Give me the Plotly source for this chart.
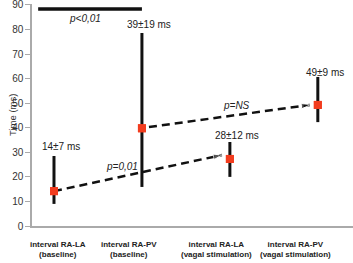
import plotly.graph_objects as go

categories = ["interval RA-LA<br>(baseline)", "interval RA-PV<br>(baseline)",
              "interval RA-LA<br>(vagal stimulation)", "interval RA-PV<br>(vagal stimulation)"]
x_pos = [1, 2, 3, 4]
means = [14.2, 39.8, 27.3, 49.3]
err_plus = [14.3, 38.8, 6.9, 11.4]
err_minus = [5.2, 23.9, 7.3, 7.0]
value_labels = ["14±7 ms", "39±19 ms", "28±12 ms", "49±9 ms"]
label_y = [32.2, 82.2, 37.0, 62.7]
cat_label_x = [1.045, 1.852, 2.852, 3.75]

# comparisons: (from index, to index, text)
comparisons = [(0, 2, "p=0,01"), (1, 3, "p=NS")]
comp_label_pos = [(1.77, 24.4), (3.08, 48.9)]
bracket = (0.82, 2.0, 88.4, "p<0,01")

font_fam = "Liberation Sans, Arial, sans-serif"

fig = go.Figure()

# dashed arrows
end_offsets = [(-0.09, 1.6), (-0.09, 0.0)]
start_offsets = [(0.0, 0.0), (0.08, 0.5)]
for (a, b, _), so, eo in zip(comparisons, start_offsets, end_offsets):
    xs = [x_pos[a] + so[0], x_pos[b] + eo[0]]
    ys = [means[a] + so[1], means[b] + eo[1]]
    fig.add_trace(go.Scatter(x=xs, y=ys, mode="lines",
                             line=dict(color="#111", width=2.5, dash="8px,5px"),
                             showlegend=False, hoverinfo="skip"))
    fig.add_trace(go.Scatter(x=xs, y=ys, mode="markers",
                             marker=dict(symbol="arrow", size=[0, 9], color="#111",
                                         angleref="previous"),
                             showlegend=False, hoverinfo="skip"))

# error bars + means
fig.add_trace(go.Scatter(
    x=x_pos, y=means, mode="markers",
    marker=dict(symbol="square", size=8, color="#f23c1e"),
    error_y=dict(type="data", array=err_plus, arrayminus=err_minus,
                 symmetric=False, color="#111", thickness=3, width=0),
    showlegend=False))
fig.add_trace(go.Scatter(x=x_pos, y=means, mode="markers",
                         marker=dict(symbol="square", size=8, color="#f23c1e"),
                         showlegend=False, hoverinfo="skip"))

# bracket line
fig.add_shape(type="line", x0=bracket[0], x1=bracket[1], y0=bracket[2], y1=bracket[2],
              line=dict(color="#111", width=3.5))

ann = []
ann.append(dict(x=1.35, y=84.3, text="<i>" + bracket[3] + "</i>", showarrow=False,
                font=dict(size=10, color="#222", family=font_fam)))
for (px, py), (_, _, t) in zip(comp_label_pos, comparisons):
    ann.append(dict(x=px, y=py, text="<i>" + t + "</i>", showarrow=False,
                    font=dict(size=10, color="#222", family=font_fam)))
for xi, yl, t in zip(x_pos, label_y, value_labels):
    ann.append(dict(x=xi + 0.08, y=yl, text=t, showarrow=False,
                    font=dict(size=10, color="#222", family=font_fam)))
for cx, c in zip(cat_label_x, categories):
    ann.append(dict(x=cx, y=0, yref="y", text="<b>" + c + "</b>", showarrow=False,
                    yanchor="top", yshift=-12,
                    font=dict(size=8, color="#222", family=font_fam)))
ann.append(dict(x=0, xref="paper", xshift=-27, y=45, yref="y", text="Time (ms)",
                textangle=-90, showarrow=False,
                font=dict(size=9.5, color="#333", family=font_fam)))

fig.update_layout(
    width=353, height=263,
    margin=dict(l=32, r=0, t=4, b=37),
    plot_bgcolor="white", paper_bgcolor="white",
    annotations=ann,
    xaxis=dict(range=[0.75, 4.40], showticklabels=False, ticks="", showgrid=False,
               zeroline=False, showline=True, linecolor="#aaa", linewidth=1.5),
    yaxis=dict(range=[0, 90.4], tickvals=list(range(0, 91, 10)), ticks="outside",
               ticklen=5, tickcolor="#aaa", showgrid=False, zeroline=False,
               showline=True, linecolor="#aaa", linewidth=1.5,
               ticklabeloverflow="allow",
               tickfont=dict(size=10, color="#333", family=font_fam)),
)

fig.write_html("out.html")
